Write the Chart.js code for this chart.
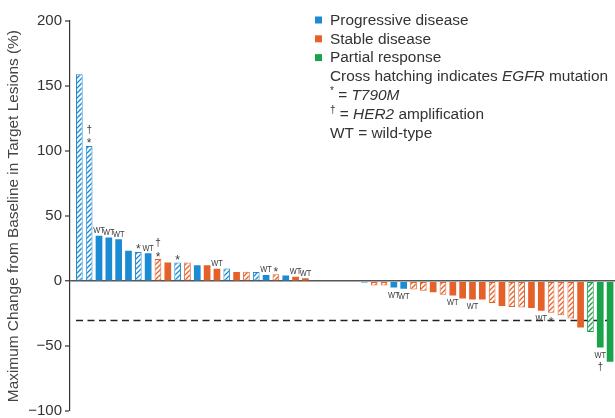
<!DOCTYPE html>
<html>
<head>
<meta charset="utf-8">
<script src="https://cdn.jsdelivr.net/npm/chart.js@4.4.1/dist/chart.umd.min.js"></script>
<style>
  html, body { margin: 0; padding: 0; background: #fff; }
</style>
</head>
<body>
<canvas id="waterfall" width="615" height="418"></canvas>
<script>
// best % change in target lesions, one bar per patient (sorted)
const changes = [
  159, 104, 35, 33.6, 32.3, 23.3, 22.5, 21.5, 17, 14.3,
  14.4, 14.4, 12.3, 12.3, 9.5, 9.7, 7, 7.2, 7, 4.8,
  5.4, 4.4, 3.3, 2.3, 0, 0, 0, 0, 0, -1,
  -3.3, -3.3, -4.9, -5.9, -6.4, -7.4, -8.5, -10.5, -11, -13.3,
  -14, -14, -16.7, -19, -19.8, -20.3, -20.6, -22.8, -24.3, -26.2,
  -28.7, -35.6, -39, -51, -62
];
// PD = progressive disease, SD = stable disease, PR = partial response
const response = [
  'PD', 'PD', 'PD', 'PD', 'PD', 'PD', 'PD', 'PD', 'SD', 'SD',
  'PD', 'SD', 'PD', 'SD', 'SD', 'PD', 'SD', 'SD', 'PD', 'PD',
  'SD', 'PD', 'SD', 'SD', 'SD', 'SD', 'SD', 'SD', 'SD', 'PD',
  'SD', 'SD', 'PD', 'PD', 'SD', 'SD', 'SD', 'SD', 'SD', 'SD',
  'SD', 'SD', 'SD', 'SD', 'SD', 'SD', 'SD', 'SD', 'SD', 'SD',
  'SD', 'SD', 'PR', 'PR', 'PR'
];
// EGFR mutation -> hatched bar
const egfr = [
  1, 1, 0, 0, 0, 0, 1, 0, 1, 0,
  1, 1, 0, 0, 0, 1, 0, 1, 1, 0,
  1, 0, 0, 0, 0, 0, 0, 0, 0, 0,
  1, 1, 0, 0, 1, 1, 0, 1, 0, 0,
  0, 0, 1, 0, 1, 1, 0, 0, 1, 1,
  1, 0, 1, 0, 0
];
// markers next to bar end, listed outward from the bar
const notes = [
  [], ['*', '†'], ['WT'], ['WT'], ['WT'], [], ['*'], ['WT'], ['*', '†'], [],
  ['*'], [], [], [], ['WT'], [], [], [], [], ['WT'],
  ['*'], [], ['WT'], ['WT'], [], [], [], [], [], [],
  [], [], ['WT'], ['WT'], [], [], [], [], ['WT'], [],
  ['WT'], [], [], [], [], [], [], ['WT'], ['*'], [],
  [], [], [], ['WT', '†'], []
];
const patients = changes.map((_, i) => i + 1);
const yTicks = [-100, -50, 0, 50, 100, 150, 200];
const threshold = -30;

const responseNames = { PD: 'Progressive disease', SD: 'Stable disease', PR: 'Partial response' };
const footnotes = [
  [['Cross hatching indicates ', 'n'], ['EGFR', 'i'], [' mutation', 'n']],
  [['*', 'sup'], [' = ', 'n'], ['T790M', 'i']],
  [['†', 'sup'], [' = ', 'n'], ['HER2', 'i'], [' amplification', 'n']],
  [['WT = wild-type', 'n']]
];
const yTitle = 'Maximum Change from Baseline in Target Lesions (%)';

const palette = { PD: '#1b8cd4', SD: '#e5612a', PR: '#19a34b' };
const FONT = '"Liberation Sans", Arial, Helvetica, sans-serif';
const TEXT = '#333';

const canvas = document.getElementById('waterfall');
const ctx = canvas.getContext('2d');

function hatch(color) {
  const c = document.createElement('canvas');
  c.width = 5; c.height = 5;
  const g = c.getContext('2d');
  g.fillStyle = '#fff';
  g.fillRect(0, 0, 5, 5);
  g.strokeStyle = color;
  g.lineWidth = 1.3;
  g.beginPath();
  g.moveTo(0, 5); g.lineTo(5, 0);
  g.moveTo(-1, 1); g.lineTo(1, -1);
  g.moveTo(4, 6); g.lineTo(6, 4);
  g.stroke();
  return ctx.createPattern(c, 'repeat');
}

const patterns = {};
for (const k in palette) patterns[k] = hatch(palette[k]);

const fills = response.map((r, i) => egfr[i] ? patterns[r] : palette[r]);
const strokes = response.map(r => palette[r]);
const widths = egfr.map(e => e ? 1 : 0);

// marker glyph styles
const markStyle = {
  'WT': { font: '9.5px ' + FONT, sx: 0.78 },
  '*': { font: '12px ' + FONT, sx: 1 },
  '†': { font: '10px ' + FONT, sx: 1 }
};

function glyphBox(m) {
  ctx.font = markStyle[m].font;
  const t = ctx.measureText(m);
  return { asc: t.actualBoundingBoxAscent, desc: t.actualBoundingBoxDescent };
}

function drawMark(m, cx, cy) {
  const s = markStyle[m];
  const b = glyphBox(m);
  ctx.save();
  ctx.font = s.font;
  ctx.fillStyle = '#3a3a3a';
  ctx.textAlign = 'center';
  ctx.textBaseline = 'alphabetic';
  ctx.translate(cx, cy + (b.asc - b.desc) / 2);
  ctx.scale(s.sx, 1);
  ctx.fillText(m, 0, 0);
  ctx.restore();
}

const markers = {
  id: 'markers',
  afterDatasetsDraw(chart) {
    const meta = chart.getDatasetMeta(0);
    meta.data.forEach((bar, i) => {
      const list = notes[i];
      if (!list.length) return;
      const up = changes[i] >= 0;
      let off = up ? 2.5 : 4;
      list.forEach(m => {
        const b = glyphBox(m);
        const h = b.asc + b.desc;
        const cy = up ? bar.y - off - h / 2 : bar.y + off + h / 2;
        drawMark(m, bar.x, cy);
        off += h + 4.5;
      });
    });
  }
};

const cutoff = {
  id: 'cutoff',
  beforeDatasetsDraw(chart) {
    const { ctx: c, chartArea, scales } = chart;
    const y = Math.round(scales.y.getPixelForValue(threshold)) + 0.5;
    c.save();
    c.strokeStyle = '#222';
    c.lineWidth = 1.4;
    c.setLineDash([7, 4.5]);
    c.beginPath();
    c.moveTo(chartArea.left + 6, y);
    c.lineTo(chartArea.right, y);
    c.stroke();
    c.restore();
  }
};

function drawRich(c, parts, x, y) {
  parts.forEach(([txt, st]) => {
    let dy = 0;
    if (st === 'i') c.font = 'italic 15.4px ' + FONT;
    else if (st === 'sup') { c.font = '10px ' + FONT; dy = -4; }
    else c.font = '15.4px ' + FONT;
    c.fillText(txt, x, y + dy);
    x += c.measureText(txt).width;
  });
}

const keyText = {
  id: 'keyText',
  afterDraw(chart) {
    const c = chart.ctx;
    c.save();
    c.textBaseline = 'middle';
    c.textAlign = 'left';
    let y = 20.5;
    ['PD', 'SD', 'PR'].forEach(k => {
      c.fillStyle = palette[k];
      c.fillRect(315, y - 4, 7, 7);
      c.fillStyle = TEXT;
      drawRich(c, [[responseNames[k], 'n']], 330, y);
      y += 18.8;
    });
    footnotes.forEach(parts => {
      c.fillStyle = TEXT;
      drawRich(c, parts, 330, y);
      y += 18.8;
    });
    c.restore();
  }
};

new Chart(canvas, {
  type: 'bar',
  data: {
    labels: patients,
    datasets: [{
      data: changes,
      backgroundColor: fills,
      borderColor: strokes,
      borderWidth: widths,
      borderSkipped: false,
      barPercentage: 0.68,
      categoryPercentage: 1
    }]
  },
  options: {
    responsive: false,
    animation: false,
    devicePixelRatio: 1,
    layout: { padding: { top: 21, right: 0, bottom: 0, left: 0 } },
    plugins: {
      legend: { display: false },
      tooltip: { enabled: false }
    },
    scales: {
      x: {
        type: 'linear',
        display: false,
        offset: false,
        min: 0.05,
        max: patients.length + 0.5
      },
      y: {
        min: yTicks[0],
        max: yTicks[yTicks.length - 1],
        afterBuildTicks: (scale) => { scale.ticks = yTicks.map(v => ({ value: v })); },
        border: { display: true, color: '#333', width: 1.2 },
        grid: {
          color: (c) => c.tick && c.tick.value === 0 ? '#555' : 'rgba(0,0,0,0)',
          lineWidth: (c) => c.tick && c.tick.value === 0 ? 1.5 : 0,
          tickColor: '#333',
          tickWidth: 1.2,
          tickLength: 5
        },
        ticks: {
          padding: 3,
          color: TEXT,
          font: { size: 15, family: FONT, lineHeight: 0.5 },
          callback: (v) => v < 0 ? '\u2212' + Math.abs(v) : String(v)
        },
        title: {
          display: true,
          text: yTitle,
          color: '#444',
          font: { size: 15.4, family: FONT },
          padding: { top: 5, bottom: 0 }
        },
        afterFit: (scale) => { scale.width = 70; }
      }
    }
  },
  plugins: [cutoff, markers, keyText]
});
</script>
</body>
</html>
